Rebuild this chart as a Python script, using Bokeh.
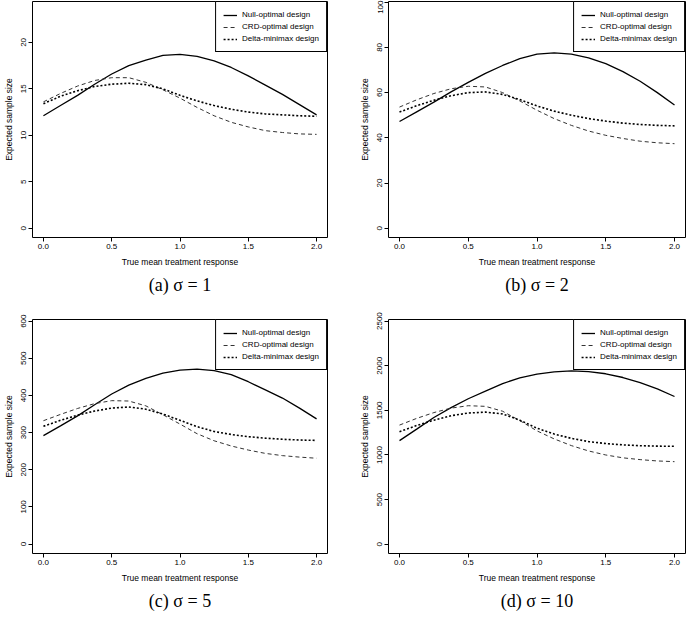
from bokeh.plotting import figure
from bokeh.models import Range1d, FixedTicker, PrintfTickFormatter, Title, Legend
from bokeh.layouts import column, row
from bokeh.embed import file_html
from bokeh.resources import INLINE

# True mean treatment response (x values read at 0.125 steps)
X = [0.0, 0.125, 0.25, 0.375, 0.5, 0.625, 0.75, 0.875, 1.0,
     1.125, 1.25, 1.375, 1.5, 1.625, 1.75, 1.875, 2.0]

SERIES = ["Null-optimal design", "CRD-optimal design", "Delta-minimax design"]

# (a) sigma = 1
A_NULL = [12.1, 13.2, 14.3, 15.5, 16.6, 17.5, 18.1, 18.6, 18.7, 18.5, 18.0, 17.3, 16.4, 15.4, 14.4, 13.3, 12.2]
A_CRD = [13.6, 14.5, 15.3, 15.9, 16.2, 16.2, 15.7, 14.9, 14.0, 13.0, 12.1, 11.4, 10.9, 10.5, 10.3, 10.15, 10.1]
A_DELTA = [13.4, 14.2, 14.8, 15.25, 15.5, 15.6, 15.45, 15.0, 14.3, 13.7, 13.2, 12.8, 12.5, 12.3, 12.2, 12.1, 12.05]
A_TICKS = [0, 5, 10, 15, 20]

# (b) sigma = 2
B_NULL = [47.2, 51.5, 55.8, 60.3, 64.5, 68.5, 72.0, 75.0, 77.0, 77.6, 77.0, 75.4, 72.8, 69.3, 65.0, 60.0, 54.5]
B_CRD = [53.6, 56.8, 59.6, 61.7, 62.8, 62.5, 60.0, 56.3, 52.2, 48.5, 45.5, 43.0, 41.1, 39.7, 38.5, 37.8, 37.4]
B_DELTA = [51.4, 54.2, 56.6, 58.6, 60.0, 60.3, 59.2, 56.9, 54.1, 51.8, 50.0, 48.5, 47.4, 46.5, 45.9, 45.5, 45.3]
B_TICKS = [0, 20, 40, 60, 80, 100]

# (c) sigma = 5
C_NULL = [292, 318, 345, 375, 404, 428, 446, 460, 468, 471, 467, 456, 437, 415, 393, 366, 337]
C_CRD = [332, 349, 365, 378, 386, 385, 372, 348, 323, 297, 278, 264, 253, 244, 238, 234, 231]
C_DELTA = [317, 333, 347, 358, 366, 369, 363, 350, 333, 316, 303, 295, 289, 285, 282, 280, 279]
C_TICKS = [0, 100, 200, 300, 400, 500, 600]

# (d) sigma = 10
D_NULL = [1161, 1290, 1420, 1530, 1630, 1715, 1800, 1865, 1905, 1932, 1942, 1935, 1910, 1868, 1810, 1740, 1655]
D_CRD = [1335, 1410, 1475, 1525, 1552, 1545, 1490, 1385, 1270, 1180, 1105, 1045, 1000, 968, 948, 933, 925]
D_DELTA = [1261, 1330, 1390, 1440, 1470, 1480, 1460, 1390, 1300, 1235, 1186, 1150, 1128, 1113, 1104, 1099, 1097]
D_TICKS = [0, 500, 1000, 1500, 2000, 2500]

X_TICKS = [0.0, 0.5, 1.0, 1.5, 2.0]
CAPTIONS = ["(a) σ = 1", "(b) σ = 2", "(c) σ = 5", "(d) σ = 10"]

SANS = "Liberation Sans"
SERIF = "Liberation Serif"


def panel(null, crd, delta, yticks, ylo, yhi, caption, fw, fh, mbl, mbr, mbt):
    p = figure(frame_width=fw, frame_height=fh,
               x_range=Range1d(-0.08, 2.08), y_range=Range1d(ylo, yhi),
               output_backend="svg", toolbar_location=None,
               min_border_left=mbl, min_border_right=mbr,
               min_border_top=mbt, min_border_bottom=0,
               background_fill_color="white", border_fill_color="white")
    p.outline_line_color = "black"
    p.outline_line_width = 1
    p.outline_line_alpha = 1
    p.grid.visible = False

    r1 = p.line(X, null, line_color="black", line_width=1.3)
    r2 = p.line(X, crd, line_color="#333333", line_width=1, line_dash="4 3")
    r3 = p.line(X, delta, line_color="black", line_width=1.6, line_dash="2 2")

    for ax in (p.xaxis[0], p.yaxis[0]):
        ax.axis_line_color = None
        ax.major_tick_out = 4
        ax.major_tick_in = 0
        ax.minor_tick_line_color = None
        ax.major_tick_line_color = "black"
        ax.major_label_text_font = SANS
        ax.major_label_text_font_size = "8px"
        ax.major_label_text_color = "black"
        ax.axis_label_text_font = SANS
        ax.axis_label_text_font_size = "8.5px"
        ax.axis_label_text_font_style = "normal"
        ax.axis_label_text_color = "black"
        ax.major_label_standoff = 2
        ax.axis_label_standoff = 5

    p.xaxis.ticker = FixedTicker(ticks=X_TICKS)
    p.xaxis.formatter = PrintfTickFormatter(format="%.1f")
    p.yaxis.ticker = FixedTicker(ticks=yticks)
    p.yaxis.major_label_orientation = "vertical"
    p.xaxis.axis_label = "True mean treatment response"
    p.yaxis.axis_label = "Expected sample size"

    legend = Legend(items=[(SERIES[0], [r1]), (SERIES[1], [r2]), (SERIES[2], [r3])],
                    location="top_right", margin=0, padding=7, spacing=1,
                    glyph_width=14, glyph_height=10, label_height=11,
                    label_standoff=5,
                    label_text_font=SANS, label_text_font_size="8px",
                    label_text_color="black",
                    border_line_color="black", border_line_width=1, border_line_alpha=1,
                    background_fill_color="white", background_fill_alpha=1)
    p.add_layout(legend, "center")

    cap = Title(text=caption, align="center", text_font=SERIF,
                text_font_size="18px", text_font_style="normal",
                text_color="black", standoff=6)
    p.add_layout(cap, "below")
    return p


pa = panel(A_NULL, A_CRD, A_DELTA, A_TICKS, -1.0, 24.4, CAPTIONS[0], 295, 236, 28, 13, 1)
pb = panel(B_NULL, B_CRD, B_DELTA, B_TICKS, -4.1, 100.3, CAPTIONS[1], 297, 236, 48, 1, 1)
pc = panel(C_NULL, C_CRD, C_DELTA, C_TICKS, -25.5, 604.5, CAPTIONS[2], 295, 234, 28, 13, 22)
pd = panel(D_NULL, D_CRD, D_DELTA, D_TICKS, -104, 2518, CAPTIONS[3], 297, 234, 48, 1, 22)

layout = column(row(pa, pb), row(pc, pd))

open("out.html", "w").write(file_html(layout, INLINE))
